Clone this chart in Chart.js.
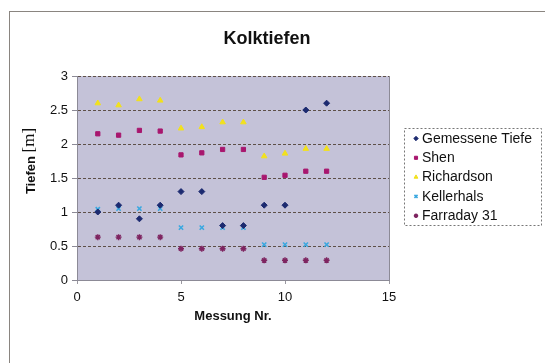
<!DOCTYPE html>
<html><head><meta charset="utf-8">
<script src="https://cdn.jsdelivr.net/npm/chart.js@4"></script>
<style>html,body{margin:0;padding:0;background:#fff}</style>
</head><body>
<canvas id="c" width="545" height="363"></canvas>
<script>
const messung   = [1,2,3,4,5,6,7,8,9,10,11,12];
const gemessen  = [1.0,1.1,0.9,1.1,1.3,1.3,0.8,0.8,1.1,1.1,2.5,2.6];
const shen      = [2.15,2.13,2.2,2.19,1.84,1.87,1.92,1.92,1.51,1.54,1.6,1.6];
const richardson= [2.6,2.57,2.66,2.64,2.23,2.25,2.32,2.32,1.82,1.86,1.93,1.93];
const kellerhals= [1.04,1.05,1.05,1.05,0.77,0.77,0.77,0.77,0.52,0.52,0.52,0.52];
const farraday  = [0.63,0.63,0.63,0.63,0.46,0.46,0.46,0.46,0.29,0.29,0.29,0.29];
const seriesNames = ['Gemessene Tiefe','Shen','Richardson','Kellerhals','Farraday 31'];
const xTicks = [0,5,10,15];
const yTicks = [0,0.5,1,1.5,2,2.5,3];

const pts = arr => arr.map((v,i)=>({x:messung[i], y:v}));
const styles = [
  {c:'#1c2a70', s:'rectRot', r:3.0, bw:1},
  {c:'#a8166e', s:'rect', r:3.0, bw:1},
  {c:'#f2e11c', s:'triangle', r:3.2, bw:1},
  {c:'#3aa8e0', s:'crossRot', r:3.0, bw:1.6},
  {c:'#7e2460', s:'star', r:3.0, bw:1.4}
];
const values = [gemessen, shen, richardson, kellerhals, farraday];
const datasets = values.map((v,i)=>({
  label: seriesNames[i], data: pts(v),
  pointStyle: styles[i].s, pointRadius: styles[i].r, pointHoverRadius: styles[i].r,
  backgroundColor: styles[i].c, borderColor: styles[i].c, pointBorderWidth: styles[i].bw,
  showLine:false
}));

const deco = {
  id:'deco',
  beforeDraw(chart){
    const ctx=chart.ctx, a=chart.chartArea;
    ctx.save();
    ctx.fillStyle='#fff'; ctx.fillRect(0,0,chart.width,chart.height);
    ctx.strokeStyle='#8a8580'; ctx.lineWidth=1;
    ctx.strokeRect(9.5,11.5,700,500);
    ctx.fillStyle='#c4c2d8';
    ctx.fillRect(a.left,a.top,a.right-a.left,a.bottom-a.top);
    ctx.restore();
  },
  afterDraw(chart){
    const ctx=chart.ctx, a=chart.chartArea;
    ctx.save();
    ctx.strokeStyle='#8c8a96'; ctx.lineWidth=1;
    ctx.beginPath(); ctx.moveTo(a.right+0.5,a.top); ctx.lineTo(a.right+0.5,a.bottom); ctx.stroke();
    ctx.fillStyle='#111'; ctx.font='bold 18px "Liberation Sans", Arial, sans-serif';
    ctx.textAlign='center'; ctx.textBaseline='middle';
    ctx.fillText('Kolktiefen', 267, 39);
    ctx.translate(31,161); ctx.rotate(-Math.PI/2);
    ctx.textAlign='left';
    ctx.font='bold 13px "Liberation Sans", Arial, sans-serif';
    const w1=ctx.measureText('Tiefen ').width;
    ctx.font='17px "Liberation Serif", "Times New Roman", serif';
    const w2=ctx.measureText('[m]').width;
    let x0=-(w1+w2)/2;
    ctx.font='bold 13px "Liberation Sans", Arial, sans-serif';
    ctx.fillText('Tiefen', x0, 0);
    ctx.font='17px "Liberation Serif", "Times New Roman", serif';
    ctx.fillText('[m]', x0+w1, -1);
    ctx.setTransform(1,0,0,1,0,0);
    const L={x:404.5,y:128.5,w:137,h:97};
    ctx.setLineDash([2,2]); ctx.strokeStyle='#777'; ctx.lineWidth=1;
    ctx.strokeRect(L.x,L.y,L.w,L.h);
    ctx.setLineDash([]);
    ctx.font='14px "Liberation Sans", Arial, sans-serif';
    ctx.textAlign='left'; ctx.textBaseline='middle';
    chart.data.datasets.forEach((d,i)=>{
      const y=138.5+i*19.3;
      ctx.fillStyle=d.backgroundColor; ctx.strokeStyle=d.borderColor; ctx.lineWidth=styles[i].bw;
      Chart.helpers.drawPoint(ctx,{pointStyle:d.pointStyle,radius:2.2,borderWidth:styles[i].bw,rotation:0},416,y);
      ctx.fillStyle='#111';
      ctx.fillText(d.label,422,y+0.5);
    });
    ctx.restore();
  }
};

new Chart(document.getElementById('c'),{
  type:'scatter',
  data:{datasets},
  options:{
    responsive:false, animation:false, devicePixelRatio:1,
    layout:{padding:{left:0,top:76,right:156,bottom:33}},
    plugins:{legend:{display:false}, title:{display:false}, tooltip:{enabled:false}},
    scales:{
      x:{
        type:'linear', min:0, max:15,
        afterFit(s){ s.height=50; },
        afterBuildTicks(s){ s.ticks=xTicks.map(v=>({value:v})); },
        ticks:{color:'#111', font:{size:13, family:'"Liberation Sans", Arial, sans-serif'}, padding:6, maxRotation:0, callback:v=>String(v)},
        grid:{drawOnChartArea:false, tickLength:4, color:'#9a98a0', tickColor:'#9a98a0'},
        border:{color:'#8c8a96', width:1},
        title:{display:true, text:'Messung Nr.', color:'#111', font:{size:13, weight:'bold', family:'"Liberation Sans", Arial, sans-serif'}, padding:{top:0,bottom:6}}
      },
      y:{
        type:'linear', min:0, max:3,
        afterFit(s){ s.width=77; },
        afterBuildTicks(s){ s.ticks=yTicks.map(v=>({value:v})); },
        ticks:{color:'#111', font:{size:13, family:'"Liberation Sans", Arial, sans-serif'}, padding:4, callback:v=>String(v)},
        grid:{color:'#5e5048', lineWidth:1, tickLength:5, tickColor:'#8c8a96'},
        border:{color:'#8c8a96', width:1, dash:[3,2]}
      }
    }
  },
  plugins:[deco]
});
</script>
</body></html>
